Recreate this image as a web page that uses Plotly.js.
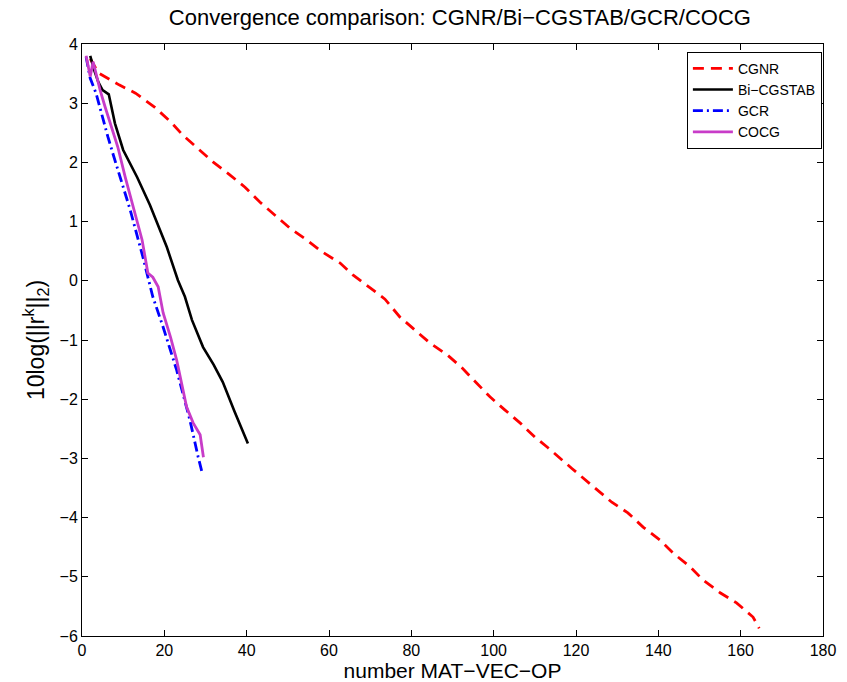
<!DOCTYPE html>
<html>
<head>
<meta charset="utf-8">
<script src="https://cdn.plot.ly/plotly-3.0.1.min.js"></script>
<style>html,body{margin:0;padding:0;background:#fff;}#chart{width:847px;height:682px;}</style>
</head>
<body>
<div id="chart"></div>
<script>
// CGNR (red dashed)
const cgnrX = [2, 4, 9, 13, 17.7, 21.6, 24.5, 28.2, 31.8, 35.9, 39.6, 43.2, 46.9, 50.5, 54.6, 58.3, 62.7, 65.8, 70, 73.6, 77.2, 80.9, 84.5, 88.7, 92.3, 95.9, 99.1, 102.7, 106.4, 110, 113.2, 119, 124.6, 128.7, 132.6, 136.3, 140.4, 143.6, 147.7, 150.8, 155, 159, 163, 164.5];
const cgnrY = [3.75, 3.51, 3.31, 3.17, 2.93, 2.68, 2.46, 2.24, 2.01, 1.79, 1.58, 1.33, 1.11, 0.89, 0.69, 0.49, 0.30, 0.10, -0.12, -0.31, -0.61, -0.83, -1.05, -1.25, -1.47, -1.73, -1.96, -2.18, -2.40, -2.64, -2.82, -3.17, -3.50, -3.74, -3.92, -4.16, -4.38, -4.60, -4.83, -5.05, -5.27, -5.44, -5.68, -5.87];

// Bi-CGSTAB (black solid)
const bicgX = [2, 3, 4, 5, 6.5, 8, 10, 13.4, 16.5, 19, 20.6, 23.3, 25, 26.7, 29.4, 32, 34.2, 37, 40.3];
const bicgY = [3.8, 3.55, 3.35, 3.22, 3.15, 2.66, 2.21, 1.75, 1.28, 0.86, 0.57, 0.01, -0.27, -0.66, -1.12, -1.42, -1.71, -2.2, -2.75];

// GCR (blue dash-dot)
const gcrX = [1, 2, 3.4, 5, 6.3, 7.5, 10, 11.7, 14.8, 17.2, 19.7, 23, 26.2, 27.4, 28.2, 29.1];
const gcrY = [3.78, 3.42, 3.17, 2.75, 2.43, 2.15, 1.58, 1.2, 0.4, -0.27, -0.78, -1.51, -2.35, -2.74, -2.97, -3.22];

// COCG (magenta solid)
const cocgX = [1, 2, 2.7, 4.4, 5.6, 6.8, 8.7, 10.5, 12.4, 14.6, 16, 17.2, 18.5, 19.7, 21.5, 23, 25.4, 27, 28.7, 29.5];
const cocgY = [3.8, 3.45, 3.7, 3.22, 2.94, 2.67, 2.26, 1.75, 1.25, 0.69, 0.13, 0.06, -0.1, -0.54, -0.95, -1.34, -2.13, -2.4, -2.6, -2.98];

const seriesNames = ['CGNR', 'Bi\u2212CGSTAB', 'GCR', 'COCG'];

const font = 'Liberation Sans, Arial, Helvetica, sans-serif';

const traces = [
  {x: cgnrX, y: cgnrY, name: seriesNames[0], mode: 'lines',
   line: {color: '#ff0000', width: 2.8, dash: '11px,7px'}},
  {x: bicgX, y: bicgY, name: seriesNames[1], mode: 'lines',
   line: {color: '#000000', width: 2.6}},
  {x: gcrX, y: gcrY, name: seriesNames[2], mode: 'lines',
   line: {color: '#0000ff', width: 2.8, dash: '10px,4px,2px,4px'}},
  {x: cocgX, y: cocgY, name: seriesNames[3], mode: 'lines',
   line: {color: '#c83cc8', width: 2.8}}
];

const axisCommon = {
  showgrid: false, zeroline: false, showline: true, linecolor: '#000', linewidth: 1,
  mirror: 'ticks', ticks: 'inside', ticklen: 6, tickcolor: '#000', tickwidth: 1,
  tickfont: {family: font, size: 16, color: '#000'}
};

const layout = {
  width: 847, height: 682,
  margin: {l: 82, r: 24, t: 44, b: 46},
  paper_bgcolor: '#fff', plot_bgcolor: '#fff',
  title: {text: 'Convergence comparison: CGNR/Bi\u2212CGSTAB/GCR/COCG',
          font: {family: font, size: 22, color: '#000'}, xref: 'paper', x: 0.51, xanchor: 'center', y: 0.974, yanchor: 'middle'},
  xaxis: Object.assign({}, axisCommon, {
    range: [0, 180], dtick: 20, tick0: 0,
    title: {text: 'number MAT\u2212VEC\u2212OP', font: {family: font, size: 21, color: '#000'}, standoff: 6}
  }),
  yaxis: Object.assign({}, axisCommon, {
    range: [-6, 4], dtick: 1, tick0: 0,
    title: {text: '10log(||r<sup>k</sup>||<sub>2</sub>)', font: {family: font, size: 23, color: '#000'}, standoff: 8}
  }),
  legend: {
    x: 0.9985, xanchor: 'right', y: 0.987, yanchor: 'top',
    bgcolor: '#fff', bordercolor: '#000', borderwidth: 1,
    font: {family: font, size: 14, color: '#000'},
    tracegroupgap: 0, itemwidth: 40
  },
  showlegend: true
};

Plotly.newPlot('chart', traces, layout, {displayModeBar: false, staticPlot: true});
</script>
</body>
</html>
